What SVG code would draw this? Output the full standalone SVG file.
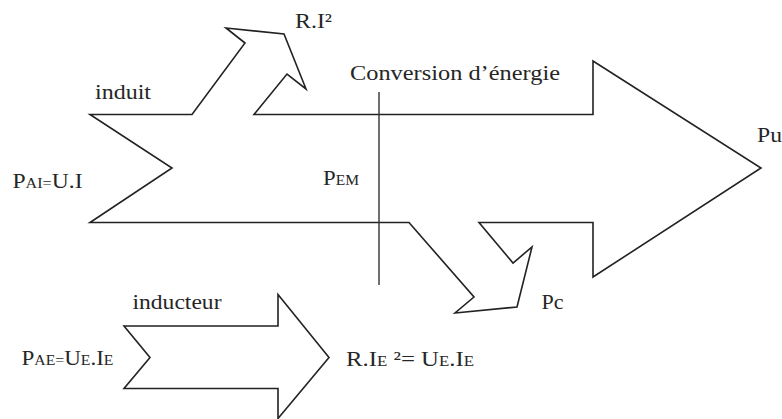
<svg xmlns="http://www.w3.org/2000/svg" width="782" height="419" viewBox="0 0 782 419">
<style>
.shape{fill:none;stroke:#222;stroke-width:1.6;stroke-linejoin:miter}
.axis{fill:none;stroke:#333;stroke-width:1.4}
.s{font-size:15px}
</style>
<rect width="782" height="419" fill="#fff"/>
<g id="induit-arrow">
<polygon class="shape" points="90,114.5 192,114.5 245,43 226,28 284,34 306,89 287,74 254,114.5 593,114.5 593,61 761,168 593,277 593,222.5 479,222.5 513,263 532,247 517,307 455,313 474,297 409,222.5 90,222.5 172,168"/>
</g>
<g id="conversion-line">
<line class="axis" x1="379" y1="92" x2="379" y2="285"/>
</g>
<g id="inducteur-arrow">
<polygon class="shape" points="124,326 278,326 278,294.5 329,357.5 278,418.5 278,388.5 124,388.5 150,357.5"/>
</g>
<g id="labels" font-family="Liberation Serif, Tinos, Times New Roman, serif" font-size="22" fill="#262626">
<text x="295" y="28" textLength="37" lengthAdjust="spacingAndGlyphs">R.I²</text>
<text x="350" y="80" textLength="210" lengthAdjust="spacingAndGlyphs">Conversion d’énergie</text>
<text x="95" y="99" textLength="56" lengthAdjust="spacingAndGlyphs">induit</text>
<text x="12.5" y="188" textLength="70" lengthAdjust="spacingAndGlyphs">P<tspan class="s">AI=</tspan>U.I</text>
<text x="323" y="185" textLength="36" lengthAdjust="spacingAndGlyphs">P<tspan class="s">EM</tspan></text>
<text x="757" y="141.5" textLength="25" lengthAdjust="spacingAndGlyphs">Pu</text>
<text x="541.5" y="309" textLength="22" lengthAdjust="spacingAndGlyphs">Pc</text>
<text x="132.5" y="309" textLength="89" lengthAdjust="spacingAndGlyphs">inducteur</text>
<text x="21.5" y="365" textLength="92" lengthAdjust="spacingAndGlyphs">P<tspan class="s">AE=</tspan>U<tspan class="s">E</tspan>.I<tspan class="s">E</tspan></text>
<text x="346" y="366" textLength="128" lengthAdjust="spacingAndGlyphs">R.I<tspan class="s">E</tspan> ²= U<tspan class="s">E</tspan>.I<tspan class="s">E</tspan></text>
</g>
</svg>
